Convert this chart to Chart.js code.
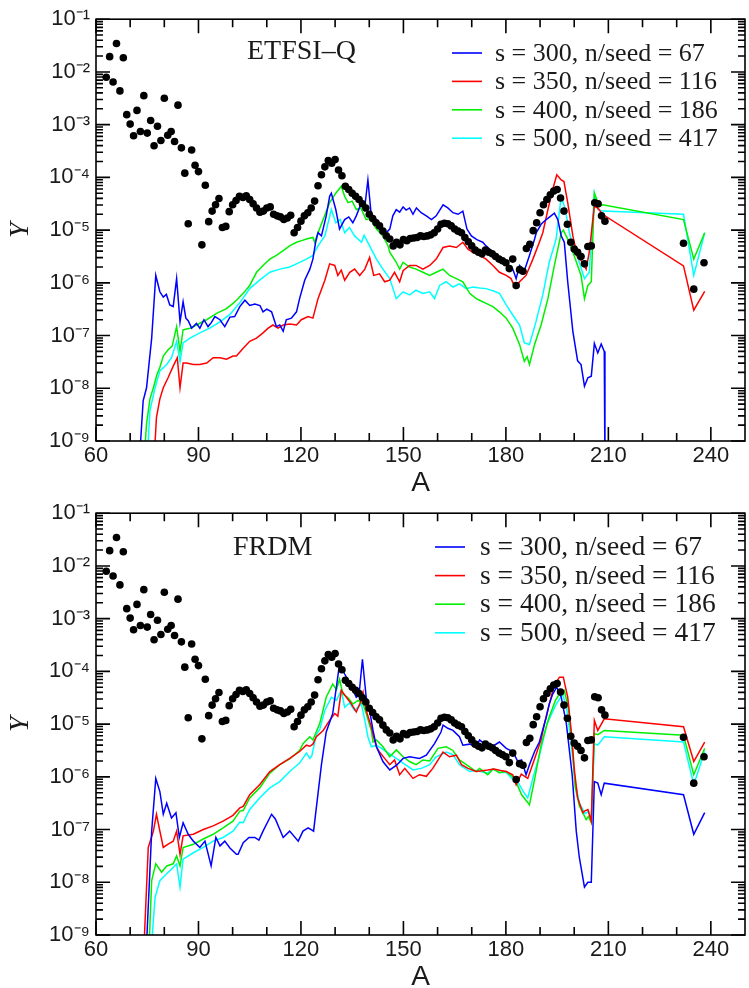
<!DOCTYPE html>
<html>
<head>
<meta charset="utf-8">
<script src="https://cdn.jsdelivr.net/npm/chart.js@4.4.1/dist/chart.umd.min.js"></script>
<style>
    body { margin: 0; background: #fff; }
    .panel { position: absolute; left: 0; width: 749px; height: 494px; }
</style>
</head>
<body>
<div class="panel" style="top:0px"><canvas id="topChart"></canvas></div>
<div class="panel" style="top:494px"><canvas id="bottomChart"></canvas></div>
<script>
//Values: [A, log10(Y)]
//Solar r-process abundances (black dots, same in both panels)
var solarPoints = [
    [63,-2.10],[64,-1.71],[65,-2.19],[66,-1.46],[67,-2.36],[68,-1.73],[69,-2.81],[70,-2.99],[71,-3.21],[72,-2.73],
    [73,-3.13],[74,-2.45],[75,-3.16],[76,-2.92],[77,-3.40],[78,-3.03],[79,-3.30],[80,-2.50],[81,-3.20],[82,-3.13],
    [83,-3.32],[84,-2.63],[85,-3.44],[86,-3.92],[87,-4.88],[88,-3.48],[89,-3.77],[90,-3.89],[91,-5.28],[92,-4.15],
    [93,-4.84],[94,-4.64],[95,-4.52],[96,-4.40],[97,-4.95],[98,-4.93],[99,-4.65],[100,-4.52],[101,-4.44],[102,-4.36],
    [103,-4.38],[104,-4.35],[105,-4.42],[106,-4.50],[107,-4.58],[108,-4.66],[109,-4.64],[110,-4.58],[111,-4.56],[112,-4.70],
    [113,-4.73],[114,-4.75],[115,-4.80],[116,-4.77],[117,-4.72],[118,-5.05],[119,-4.95],[120,-4.83],[121,-4.73],[122,-4.67],
    [123,-4.58],[124,-4.45],[125,-4.16],[126,-3.95],[127,-3.80],[128,-3.68],[129,-3.73],[130,-3.66],[131,-3.86],[132,-3.97],
    [133,-4.17],[134,-4.23],[135,-4.30],[136,-4.36],[137,-4.42],[138,-4.50],[139,-4.58],[140,-4.70],[141,-4.78],[142,-4.86],
    [143,-4.92],[144,-5.02],[145,-5.11],[146,-5.17],[147,-5.30],[148,-5.23],[149,-5.28],[150,-5.18],[151,-5.20],[152,-5.16],
    [153,-5.15],[154,-5.14],[155,-5.11],[156,-5.12],[157,-5.11],[158,-5.09],[159,-5.05],[160,-4.98],[161,-4.89],[162,-4.87],
    [163,-4.88],[164,-4.92],[165,-4.98],[166,-5.02],[167,-5.05],[168,-5.14],[169,-5.22],[170,-5.30],[171,-5.38],[172,-5.42],
    [173,-5.45],[174,-5.38],[175,-5.42],[176,-5.45],[177,-5.50],[178,-5.55],[179,-5.58],[180,-5.62],[181,-5.73],[182,-5.55],
    [183,-6.05],[184,-5.75],[185,-5.78],[186,-5.35],[187,-5.27],[188,-5.01],[189,-4.86],[190,-4.67],[191,-4.52],[192,-4.42],
    [193,-4.33],[194,-4.26],[195,-4.23],[196,-4.39],[197,-4.64],[198,-4.89],[199,-5.23],[200,-5.36],[201,-5.42],[202,-5.50],
    [203,-5.64],[204,-5.31],[205,-5.30],[206,-4.48],[207,-4.50],[208,-4.73],[209,-4.83],[232,-5.25],[235,-6.12],[238,-5.62]
];

//ETFSI-Q panel
var etfsiS300 = [
    [72.5,-9.6],[73.8,-8.24],[74.8,-7.99],[76.3,-7.05],[77.5,-5.86],[78.7,-6.17],[79.7,-6.27],[80.6,-6.22],[81.6,-6.42],[82.6,-6.45],
    [83.6,-5.92],[84.6,-6.74],[85.5,-6.36],[86.3,-6.67],[87,-6.72],[88,-6.86],[89.4,-6.77],[90.4,-6.86],[91.6,-6.70],[92.8,-6.83],
    [93.8,-6.75],[94.8,-6.64],[96.3,-6.70],[97.7,-6.83],[99.2,-6.65],[100.6,-6.64],[102.1,-6.45],[103.6,-6.33],[105,-6.43],[106.5,-6.40],
    [108,-6.43],[108.9,-6.55],[110,-6.50],[111.4,-6.55],[112.8,-6.83],[113.8,-6.80],[114.8,-6.92],[115.7,-6.70],[117.2,-6.67],[118.7,-6.55],
    [119.6,-6.30],[121.1,-5.95],[122.6,-5.74],[123.5,-5.55],[124.3,-5.23],[125,-5.05],[126,-5.11],[127.4,-4.73],[128.4,-4.36],[128.9,-4.30],
    [130.2,-4.61],[131.3,-4.98],[132.8,-4.80],[134,-4.75],[135.2,-4.86],[136.2,-4.73],[137.7,-4.48],[138.6,-4.61],[139.6,-4.05],[140.6,-4.73],
    [142.1,-4.80],[143,-4.98],[144.5,-5.08],[146,-4.98],[146.9,-4.73],[147.9,-4.61],[148.9,-4.66],[149.9,-4.56],[150.8,-4.62],[151.8,-4.58],
    [152.8,-4.70],[153.8,-4.58],[155.2,-4.67],[156.7,-4.73],[158.2,-4.80],[159.6,-4.73],[161.6,-4.52],[163,-4.58],[164.5,-4.67],[166,-4.70],
    [167.4,-4.64],[168.6,-4.98],[169.9,-5.11],[171.5,-5.18],[173.2,-5.23],[174.2,-5.30],[176.2,-5.42],[178.1,-5.55],[180.1,-5.64],[182,-5.74],
    [183,-5.92],[184,-5.67],[185.4,-5.77],[186.9,-5.48],[188.4,-5.17],[188.9,-5.05],[190.3,-4.89],[191.8,-4.80],[193.2,-4.73],[194.2,-4.68],
    [195.2,-4.80],[196.2,-5.11],[197.1,-5.23],[198.1,-5.98],[199.6,-6.92],[201,-7.48],[202,-7.55],[203,-7.96],[204,-7.80],[205,-7.77],
    [205.9,-7.15],[206.9,-7.33],[207.9,-7.16],[208.8,-7.30],[209,-9.6]
];
var etfsiS350 = [
    [76.8,-9.6],[77.7,-8.55],[78.7,-8.20],[79.7,-7.99],[81.1,-7.80],[82.6,-7.58],[83.8,-7.42],[84.6,-7.99],[85.5,-7.52],[86.5,-7.52],
    [88.5,-7.55],[90.4,-7.55],[92.4,-7.52],[94.3,-7.42],[96.3,-7.42],[98.2,-7.45],[100.1,-7.39],[101.1,-7.39],[103.1,-7.24],[105,-7.11],
    [107,-7.05],[108.9,-6.95],[110.4,-6.86],[111.8,-6.80],[113.3,-6.86],[114.8,-6.80],[116.7,-6.78],[118.7,-6.80],[120.1,-6.70],[122.1,-6.64],
    [123.5,-6.67],[125,-6.30],[127,-5.95],[128.4,-5.64],[129.9,-5.67],[130.8,-5.86],[131.8,-5.76],[132.8,-5.95],[134.3,-5.80],[135.7,-5.74],
    [137.2,-5.86],[138.7,-5.74],[140.1,-5.52],[141.3,-5.86],[143,-5.83],[144.5,-5.98],[146,-5.95],[147.4,-5.80],[148.9,-5.98],[149.9,-5.77],
    [151.8,-5.67],[153.7,-5.67],[155.7,-5.74],[157.7,-5.67],[159.6,-5.55],[161.6,-5.33],[163.5,-5.30],[165.5,-5.33],[167.4,-5.23],[168.9,-5.36],
    [170.3,-5.42],[172.3,-5.48],[174.2,-5.55],[176.2,-5.67],[178.1,-5.80],[180.1,-5.86],[181.5,-5.92],[182.8,-6.10],[184,-5.98],[185.9,-5.86],
    [187.9,-5.55],[189.8,-5.23],[190.8,-5.05],[192.3,-4.61],[193.7,-4.23],[194.9,-3.95],[196.2,-4.05],[197,-4.08],[198.1,-4.48],[199.6,-5.11],
    [201,-5.52],[202.5,-5.61],[203.5,-5.74],[204.4,-5.42],[205.9,-4.55],[206.9,-4.58],[208.3,-4.70],[232,-5.68],[235,-6.52],[238.2,-6.16]
];
var etfsiS400 = [
    [73.8,-9.6],[74.8,-8.67],[75.8,-8.20],[76.8,-7.99],[77.8,-7.75],[78.7,-7.60],[79.7,-7.39],[81.1,-7.27],[82.3,-7.20],[83.6,-6.83],
    [84.6,-7.30],[85.5,-6.89],[87.5,-6.86],[89.4,-6.80],[92.4,-6.70],[95.3,-6.58],[98.2,-6.49],[100.1,-6.39],[101.1,-6.33],[103.1,-6.20],
    [105,-6.05],[107,-5.80],[108.9,-5.67],[110.9,-5.55],[112.8,-5.48],[114.8,-5.39],[116.7,-5.30],[118.7,-5.23],[120.2,-5.20],[121.6,-5.17],
    [123.5,-5.14],[124,-5.23],[125,-5.05],[126.5,-4.80],[128.4,-4.48],[130.2,-4.30],[131.8,-4.17],[132.8,-4.36],[133.8,-4.48],[135,-4.45],
    [136.2,-4.61],[137.5,-4.58],[139.1,-4.80],[140.2,-4.78],[142.1,-4.98],[144,-5.11],[145.5,-5.30],[146,-5.42],[147.9,-5.61],[148.9,-5.74],
    [149.9,-5.61],[151.8,-5.70],[153.7,-5.74],[155.7,-5.80],[157.7,-5.86],[159.6,-5.80],[161.6,-5.74],[163.5,-5.86],[165.5,-5.92],[167.4,-5.98],
    [169.4,-6.20],[171.3,-6.30],[172.3,-6.33],[174.2,-6.39],[176.2,-6.45],[178.1,-6.55],[180.1,-6.67],[182,-6.86],[184,-7.17],[185.4,-7.49],
    [186.2,-7.40],[186.9,-7.55],[188.4,-7.17],[190.3,-6.80],[192.3,-6.30],[194.2,-5.67],[196.2,-5.05],[196.8,-5.00],[198.1,-5.17],[199.6,-5.42],
    [201,-5.67],[202,-5.86],[203,-6.30],[204,-6.05],[205,-5.98],[205.9,-4.30],[207.4,-4.55],[208.3,-4.52],[232,-4.80],[235,-5.55],[238.2,-5.05]
];
var etfsiS500 = [
    [74.8,-9.6],[75.8,-8.42],[77.3,-7.99],[78.7,-7.67],[80.7,-7.55],[82.1,-7.42],[83.6,-7.11],[84.6,-7.49],[85.5,-7.14],[87.5,-7.05],
    [90.4,-6.95],[93.3,-6.86],[96.3,-6.74],[99.2,-6.60],[102.1,-6.38],[105,-6.11],[107.9,-5.95],[110.9,-5.80],[113.8,-5.74],[116.7,-5.70],
    [118.7,-5.64],[121.6,-5.55],[123.5,-5.48],[125,-5.30],[127,-5.11],[128.9,-4.61],[130.2,-4.86],[131.5,-4.80],[132.8,-5.05],[134.2,-4.95],
    [135.7,-5.11],[137.7,-5.23],[138.5,-5.10],[140.1,-5.30],[142.1,-5.55],[144,-5.74],[146,-5.92],[147.9,-6.30],[149.9,-6.17],[151.8,-6.23],
    [153.7,-6.14],[155.7,-6.20],[157.7,-6.17],[159.1,-6.30],[160.6,-6.05],[162.5,-5.98],[164.5,-6.08],[166.4,-6.02],[168.4,-6.11],[170.3,-6.08],
    [172.3,-6.10],[174.2,-6.11],[176.2,-6.15],[178.1,-6.20],[180.1,-6.42],[182,-6.61],[184,-6.80],[185.4,-7.14],[186.9,-7.17],[188.8,-6.74],
    [190.8,-6.23],[192.7,-5.61],[194.7,-5.17],[196.2,-4.36],[197.4,-4.61],[198.6,-5.05],[199.6,-5.30],[201.5,-5.61],[203,-5.92],[204.4,-5.80],
    [205.9,-4.30],[206.9,-4.61],[208.3,-4.64],[232,-4.70],[235,-5.86],[238.2,-5.05]
];

//FRDM panel
var frdmS300 = [
    [74.5,-9.6],[76.3,-7.03],[77.5,-6.03],[78.7,-6.28],[79.7,-6.71],[80.7,-6.50],[82.1,-6.78],[83.4,-6.68],[84.4,-7.15],[85.5,-6.87],
    [87,-7.09],[88.5,-7.22],[90.4,-7.34],[91.9,-7.22],[93.7,-7.69],[95.1,-7.15],[96.3,-7.31],[97.7,-7.22],[99.2,-7.35],[101.1,-7.47],
    [101.6,-7.47],[103.1,-7.25],[104.8,-7.15],[106.5,-7.15],[107.7,-7.20],[108.9,-7.03],[111.4,-6.71],[112.5,-6.80],[114.8,-7.15],[116.7,-7.03],
    [119.2,-7.22],[120.6,-7.03],[122.1,-6.97],[123,-7.00],[123.7,-7.03],[124.5,-6.59],[126,-5.77],[127.4,-5.15],[129.3,-4.80],[131.3,-3.86],
    [132.8,-4.05],[134.5,-4.25],[136.2,-4.49],[137,-4.45],[138,-3.77],[139.1,-4.49],[140.1,-4.74],[141.1,-5.12],[142.1,-5.43],[144,-5.71],
    [146,-5.87],[148,-5.78],[149.9,-5.65],[151.8,-5.62],[154.7,-5.65],[156.7,-5.59],[159.1,-5.37],[161,-5.15],[161.6,-5.02],[163,-5.08],
    [164.5,-5.12],[166.4,-5.24],[167.4,-5.40],[169.4,-5.38],[171.3,-5.43],[172.3,-5.30],[174.2,-5.40],[176.2,-5.42],[178.1,-5.34],[180.1,-5.46],
    [182,-5.52],[183.5,-5.71],[184.6,-5.68],[185.9,-5.96],[186.9,-5.77],[188.4,-5.52],[189.8,-5.34],[191.8,-4.87],[192.7,-4.62],[193.7,-4.43],
    [194.9,-4.30],[196.2,-4.49],[197.7,-4.99],[199.4,-5.96],[200.6,-7.03],[201.5,-7.53],[203,-8.09],[204,-8.00],[205,-8.00],[205.9,-6.09],
    [206.9,-6.12],[207.9,-6.34],[208.8,-6.12],[232,-6.34],[235,-7.09],[238.2,-6.68]
];
var frdmS350 = [
    [73.8,-9.6],[75.3,-7.34],[76.8,-7.03],[77.7,-6.71],[78.7,-7.03],[79.7,-7.34],[81,-7.28],[82.6,-7.22],[83.6,-7.03],[84.6,-7.47],
    [85.5,-7.12],[88.5,-7.09],[91.4,-7.00],[94.3,-6.93],[97.2,-6.84],[100.1,-6.73],[102.1,-6.59],[103.1,-6.56],[105,-6.34],[107.9,-6.15],
    [110.9,-5.90],[113.8,-5.77],[116.7,-5.65],[119.6,-5.52],[121.6,-5.40],[122.6,-5.42],[123.5,-5.38],[124.5,-5.24],[126.5,-5.12],[128.4,-4.93],
    [129.9,-4.80],[130.8,-4.85],[131.8,-4.36],[133.3,-4.49],[134.8,-4.62],[136.2,-4.77],[137.7,-4.55],[138.2,-4.40],[139.1,-4.74],[140.6,-5.05],
    [141.1,-5.20],[142.1,-5.43],[143,-5.53],[144.5,-5.65],[146,-5.77],[147.4,-5.68],[148.9,-5.96],[150.4,-5.84],[152.8,-6.03],[154.7,-5.96],
    [156.7,-5.99],[158.6,-5.84],[161.6,-5.53],[163.5,-5.62],[165.5,-5.59],[167,-5.77],[168.9,-5.84],[171.3,-5.90],[174.7,-5.87],[176.5,-5.85],
    [178.5,-5.88],[180.1,-5.90],[182,-5.96],[183,-6.15],[184.5,-5.95],[186.4,-6.03],[187.9,-5.75],[189.5,-5.45],[190.3,-5.30],[191.3,-4.99],
    [192.7,-4.62],[194.2,-4.25],[195.7,-4.11],[196.8,-4.11],[198.1,-4.49],[199.1,-5.12],[200.1,-5.90],[201,-6.40],[202.5,-6.68],[203,-6.65],
    [204,-6.62],[205,-6.84],[205.9,-4.93],[206.9,-5.12],[208.8,-4.90],[232,-5.05],[235,-5.71],[238.2,-5.34]
];
var frdmS400 = [
    [75.3,-9.6],[76.3,-7.97],[77.5,-7.65],[79.2,-7.81],[80.7,-7.69],[82.6,-7.65],[83.6,-7.50],[84.6,-7.69],[85.5,-7.34],[88.5,-7.28],
    [91.4,-7.18],[94.3,-7.09],[97.2,-6.97],[100.1,-6.84],[102.1,-6.65],[103.1,-6.64],[105,-6.40],[107.9,-6.21],[110.9,-5.93],[113.8,-5.77],
    [116.7,-5.66],[119.6,-5.50],[120.6,-5.37],[122.6,-5.24],[123.5,-5.30],[125.5,-4.99],[127.4,-4.49],[129.3,-4.24],[130.4,-4.35],[131.3,-4.15],
    [132.3,-4.43],[133.8,-4.50],[135.2,-4.62],[136.7,-4.55],[138.2,-4.62],[139.1,-4.80],[140.6,-5.12],[141.1,-5.34],[142.1,-5.30],[144,-5.43],
    [146,-5.62],[147.9,-5.49],[149.9,-5.62],[151.8,-5.71],[153.7,-5.77],[155.7,-5.68],[157.7,-5.70],[160.1,-5.46],[162.5,-5.43],[164.5,-5.50],
    [166.4,-5.68],[168.4,-5.77],[171.3,-5.90],[172.3,-5.84],[174.7,-5.96],[176.2,-5.85],[178.1,-5.92],[180.1,-5.90],[182,-6.00],[183,-6.10],
    [184.6,-6.34],[186.9,-6.53],[188.4,-6.05],[190.3,-5.40],[192.5,-4.90],[194.5,-4.55],[195.5,-4.45],[197.1,-4.36],[198.3,-4.70],[199.3,-5.30],
    [200.3,-6.20],[201.5,-6.55],[203.5,-6.81],[204.2,-6.75],[205,-6.87],[205.9,-5.18],[206.9,-5.20],[208.8,-5.12],[232,-5.21],[235,-5.96],[238.2,-5.46]
];
var frdmS500 = [
    [75.8,-9.6],[77.3,-8.28],[78.7,-7.97],[80.7,-7.84],[82.6,-7.72],[83.6,-7.65],[84.6,-8.09],[85.5,-7.56],[88.5,-7.44],[91.4,-7.34],
    [94.3,-7.22],[97.2,-7.15],[100.1,-7.03],[102.1,-6.86],[103.1,-6.87],[105,-6.62],[107.9,-6.40],[110.9,-6.21],[113.8,-6.09],[116.7,-5.90],
    [119.6,-5.74],[121.6,-5.55],[122.6,-5.65],[123.2,-5.60],[124.5,-5.20],[125.5,-5.10],[127,-4.74],[128.9,-4.49],[130.4,-4.55],[131.8,-4.36],
    [132.8,-4.68],[134.2,-4.60],[135.7,-4.74],[137.7,-4.62],[138.7,-4.93],[139.6,-5.24],[140.6,-5.43],[142.1,-5.40],[145,-5.52],[147.9,-5.65],
    [149.9,-5.74],[152.8,-5.87],[155.2,-5.84],[157.7,-5.77],[159.6,-5.62],[162.5,-5.53],[164.5,-5.58],[166.4,-5.77],[169.4,-5.90],[171.5,-5.88],
    [174.7,-5.93],[176.2,-5.85],[178.1,-5.92],[180.1,-5.92],[182,-6.05],[183.5,-6.10],[185.1,-6.28],[186.4,-6.40],[188,-6.00],[190,-5.55],
    [192,-5.00],[194.5,-4.65],[196.6,-4.43],[197.8,-4.70],[199,-5.30],[200.3,-6.10],[201.5,-6.50],[203.2,-6.70],[204.2,-6.65],[205,-6.80],
    [205.9,-5.37],[206.9,-5.40],[208.8,-5.24],[232,-5.34],[235,-6.15],[238.2,-5.52]
];

var seriesLabels = ['s = 300, n/seed = 67', 's = 350, n/seed = 116', 's = 400, n/seed = 186', 's = 500, n/seed = 417'];
var seriesColors = ['#0000ff', '#ff0000', '#00f000', '#00ffff'];
var xTicks = [60, 90, 120, 150, 180, 210, 240];
var yTicks = [1e-9, 1e-8, 1e-7, 1e-6, 1e-5, 1e-4, 1e-3, 1e-2, 1e-1];

var SUPERSCRIPTS = { '-': '\u207B', '0': '\u2070', '1': '\u00B9', '2': '\u00B2', '3': '\u00B3', '4': '\u2074',
                     '5': '\u2075', '6': '\u2076', '7': '\u2077', '8': '\u2078', '9': '\u2079' };

function ToSuperscript (_n)
{
    return String(_n).split('').map(c => SUPERSCRIPTS[c]).join('');
}

function ToXY (_pairs)
{
    return _pairs.map(p => ({ x: p[0], y: Math.pow(10, p[1]) }));
}

//frame, inward ticks on all four sides, panel title and legend
const panelDecor = {
    id: 'panelDecor',
    afterDraw (chart, args, opts)
    {
        const ctx = chart.ctx;
        const area = chart.chartArea;
        const xs = chart.scales.x;
        const ys = chart.scales.y;

        ctx.save();
        ctx.strokeStyle = '#000';
        ctx.lineWidth = 1.6;
        ctx.strokeRect(area.left, area.top, area.right - area.left, area.bottom - area.top);

        ctx.beginPath();
        for (var a = 60; a < 250; a += 10)
        {
            var px = xs.getPixelForValue(a);
            var xLen = (a % 30 === 0) ? 14 : 8;
            ctx.moveTo(px, area.bottom);
            ctx.lineTo(px, area.bottom - xLen);
            ctx.moveTo(px, area.top);
            ctx.lineTo(px, area.top + xLen);
        }
        for (var e = -9; e <= -1; e++)
        {
            for (var m = 1; m <= 9; m++)
            {
                if (e === -1 && m > 1) break;
                var py = ys.getPixelForValue(m * Math.pow(10, e));
                var yLen = (m === 1) ? 14 : 7;
                ctx.moveTo(area.left, py);
                ctx.lineTo(area.left + yLen, py);
                ctx.moveTo(area.right, py);
                ctx.lineTo(area.right - yLen, py);
            }
        }
        ctx.stroke();

        //panel title
        ctx.fillStyle = '#1a1a1a';
        ctx.font = '28px "Liberation Serif", "Times New Roman", serif';
        ctx.textBaseline = 'middle';
        ctx.textAlign = 'left';
        ctx.fillText(opts.title, opts.titleX, opts.titleY);

        //legend
        ctx.font = opts.legendFont + 'px "Liberation Serif", "Times New Roman", serif';
        var row = 0;
        chart.data.datasets.forEach(ds => {
            if (!ds.label) return;
            var ly = opts.legendY + row * opts.legendStep;
            ctx.strokeStyle = ds.borderColor;
            ctx.lineWidth = 1.6;
            ctx.beginPath();
            ctx.moveTo(opts.legendX, ly);
            ctx.lineTo(opts.legendX + 30, ly);
            ctx.stroke();
            ctx.fillText(ds.label, opts.legendTextX, ly + 1);
            row++;
        });
        ctx.restore();
    }
};

function BuildChart (_canvasId, _series, _decor, _topPad)
{
    var datasets = [
        {
            data: ToXY(solarPoints),
            showLine: false,
            pointRadius: 3.8,
            pointBackgroundColor: '#000',
            pointBorderWidth: 0
        }
    ];
    for (var i = 0; i < _series.length; i++)
    {
        datasets.push({
            label: seriesLabels[i],
            data: ToXY(_series[i]),
            showLine: true,
            borderColor: seriesColors[i],
            borderWidth: 1.5,
            pointRadius: 0,
            fill: false,
            tension: 0
        });
    }

    const config =
    {
        type: 'scatter',
        data: { datasets: datasets },
        plugins: [panelDecor],
        options:
        {
            responsive: false,
            animation: false,
            devicePixelRatio: 1,
            layout: { padding: { top: _topPad, right: 2, left: 0, bottom: 0 } },
            plugins:
            {
                legend: { display: false },
                tooltip: { enabled: false },
                panelDecor: _decor
            },
            scales:
            {
                x:
                {
                    type: 'linear',
                    min: 60,
                    max: 250,
                    afterBuildTicks: function (scale) { scale.ticks = xTicks.map(v => ({ value: v })); },
                    afterFit: function (scale) { scale.height = 53; },
                    grid: { display: false, drawTicks: false },
                    border: { display: false },
                    ticks:
                    {
                        padding: 2,
                        color: '#1a1a1a',
                        maxRotation: 0,
                        autoSkip: false,
                        font: { family: '"Liberation Sans", Arial, sans-serif', size: 22 }
                    },
                    title:
                    {
                        display: true,
                        text: 'A',
                        color: '#1a1a1a',
                        padding: { top: 0, bottom: 0 },
                        font: { family: '"Liberation Sans", Arial, sans-serif', size: 28, lineHeight: 0.75 }
                    }
                },
                y:
                {
                    type: 'logarithmic',
                    min: 1e-9,
                    max: 1e-1,
                    afterBuildTicks: function (scale) { scale.ticks = yTicks.map(v => ({ value: v })); },
                    afterFit: function (scale) { scale.width = 96; },
                    grid: { display: false, drawTicks: false },
                    border: { display: false },
                    ticks:
                    {
                        padding: 6,
                        color: '#1a1a1a',
                        autoSkip: false,
                        font: { family: '"Liberation Sans", Arial, sans-serif', size: 22 },
                        callback: function (value)
                        {
                            return '10' + ToSuperscript(Math.round(Math.log10(value)));
                        }
                    },
                    title:
                    {
                        display: true,
                        text: 'Y',
                        color: '#1a1a1a',
                        padding: { top: 7, bottom: 0 },
                        font: { family: '"Liberation Serif", serif', size: 28, style: 'italic', lineHeight: 1 }
                    }
                }
            }
        }
    };

    const canvas = document.getElementById(_canvasId);
    if (canvas)
    {
        canvas.width = 749;
        canvas.height = 494;
        return new Chart(canvas.getContext('2d'), config);
    }
    console.error('Canvas ' + _canvasId + ' not found.');
}

BuildChart('topChart', [etfsiS300, etfsiS350, etfsiS400, etfsiS500],
    { title: 'ETFSI\u2013Q', titleX: 247, titleY: 52, legendX: 452, legendTextX: 495, legendY: 53, legendStep: 28.4, legendFont: 26 }, 14);
BuildChart('bottomChart', [frdmS300, frdmS350, frdmS400, frdmS500],
    { title: 'FRDM', titleX: 233, titleY: 54, legendX: 435, legendTextX: 480, legendY: 53, legendStep: 28.6, legendFont: 27.5 }, 15);
</script>
</body>
</html>
